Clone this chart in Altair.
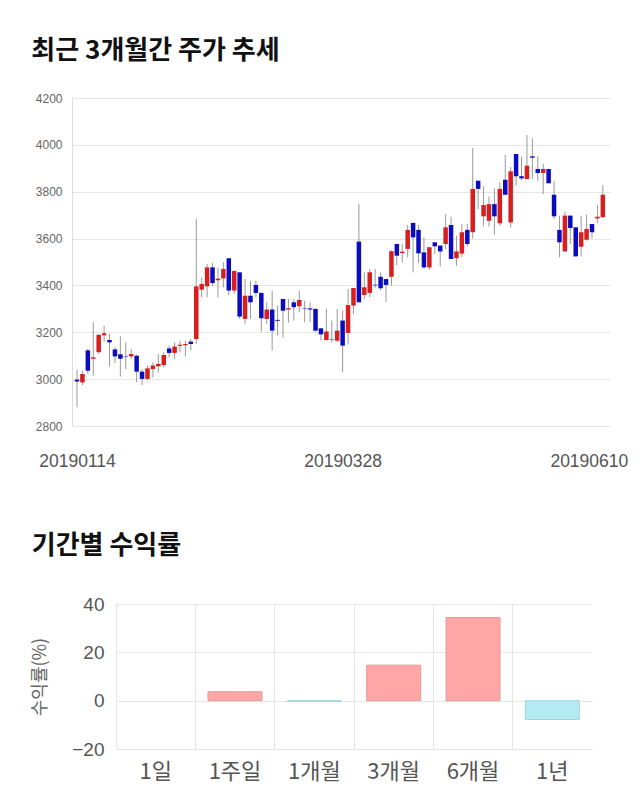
import altair as alt
import pandas as pd
import numpy as np

# ---- candlestick data (index = trading day) ----
opens = [2998, 2986, 3123, 3087, 3115, 3187, 3167, 3127, 3106, 3098,
         3097, 3100, 3032, 3001, 3043, 3055, 3060, 3131, 3112, 3142,
         3145, 3160, 3171, 3382, 3396, 3477, 3422, 3430, 3516, 3378,
         3456, 3257, 3356, 3402, 3368, 3257, 3297, 3253, 3342, 3297,
         3328, 3311, 3303, 3302, 3300, 3217, 3167, 3170, 3164, 3250,
         3197, 3314, 3587, 3359, 3368, 3403, 3437, 3427, 3437, 3577,
         3538, 3556, 3667, 3637, 3541, 3477, 3584, 3570, 3577, 3658,
         3516, 3536, 3637, 3627, 3847, 3695, 3676, 3747, 3665, 3851,
         3669, 3961, 3866, 3854, 3951, 3897, 3880, 3897, 3787, 3637,
         3545, 3698, 3648, 3565, 3595, 3662, 3686, 3691]
highs = [3040, 3036, 3129, 3245, 3193, 3228, 3193, 3136, 3183, 3157,
         3129, 3104, 3043, 3058, 3072, 3107, 3115, 3143, 3157, 3164,
         3164, 3171, 3684, 3435, 3491, 3496, 3477, 3499, 3516, 3462,
         3456, 3428, 3420, 3420, 3370, 3328, 3378, 3314, 3342, 3342,
         3342, 3378, 3335, 3328, 3300, 3217, 3300, 3250, 3299, 3292,
         3385, 3389, 3748, 3456, 3470, 3470, 3456, 3427, 3551, 3577,
         3577, 3658, 3667, 3658, 3606, 3563, 3584, 3570, 3705, 3693,
         3612, 3662, 3662, 3987, 3847, 3823, 3780, 3814, 3840, 3957,
         3905, 3961, 3950, 4042, 4028, 3951, 3919, 3897, 3846, 3698,
         3715, 3698, 3648, 3698, 3701, 3662, 3744, 3828]
lows = [2880, 2975, 3022, 3015, 3108, 3160, 3055, 3069, 3011, 3043,
        3086, 2987, 2975, 2994, 3008, 3029, 3050, 3093, 3086, 3115,
        3097, 3122, 3150, 3349, 3349, 3396, 3349, 3392, 3359, 3363,
        3257, 3236, 3257, 3350, 3203, 3235, 3122, 3186, 3178, 3242,
        3250, 3285, 3242, 3242, 3203, 3165, 3165, 3157, 3157, 3029,
        3150, 3278, 3328, 3342, 3350, 3390, 3378, 3328, 3399, 3487,
        3498, 3520, 3456, 3496, 3470, 3467, 3534, 3481, 3555, 3513,
        3484, 3520, 3567, 3600, 3726, 3652, 3652, 3617, 3655, 3787,
        3648, 3826, 3850, 3854, 3854, 3846, 3790, 3836, 3683, 3520,
        3545, 3577, 3524, 3524, 3591, 3601, 3666, 3691]
closes = [2990, 3022, 3036, 3093, 3189, 3196, 3157, 3097, 3087, 3096,
          3107, 3032, 3001, 3046, 3058, 3065, 3103, 3112, 3139, 3147,
          3150, 3150, 3396, 3406, 3477, 3410, 3429, 3470, 3378, 3462,
          3267, 3356, 3328, 3368, 3260, 3297, 3207, 3249, 3292, 3303,
          3307, 3338, 3301, 3297, 3207, 3191, 3203, 3168, 3207, 3143,
          3316, 3389, 3328, 3392, 3456, 3400, 3388, 3402, 3546, 3527,
          3544, 3637, 3605, 3537, 3477, 3563, 3567, 3545, 3648, 3513,
          3545, 3627, 3577, 3812, 3812, 3743, 3747, 3695, 3812, 3787,
          3887, 3866, 3857, 3911, 3945, 3880, 3897, 3836, 3695, 3584,
          3698, 3645, 3524, 3627, 3641, 3627, 3693, 3787]
date_labels = ["20190114", "20190328", "20190610"]
date_label_idx = [0, 49, 97]
price_ticks = [2800, 3000, 3200, 3400, 3600, 3800, 4000, 4200]

# ---- period returns ----
periods = ["1일", "1주일", "1개월", "3개월", "6개월", "1년"]
returns = [0.0, 3.7, -0.3, 14.7, 34.4, -7.8]
return_ticks = [-20, 0, 20, 40]

df = pd.DataFrame({"i": list(range(len(opens))), "open": opens, "high": highs,
                   "low": lows, "close": closes})
df["dir"] = np.where(df["close"] >= df["open"], "up", "down")

label_expr = " : ".join(
    f"datum.value == {i} ? '{t}'" for i, t in zip(date_label_idx[:-1], date_labels[:-1])
) + f" : '{date_labels[-1]}'"

xq = alt.X("i:Q",
           scale=alt.Scale(domain=[0, 97.4], nice=False, zero=False),
           axis=alt.Axis(values=date_label_idx, labelExpr=label_expr, grid=False,
                         ticks=False, domain=False, labelFontSize=17.5,
                         labelColor="#555", labelFont="Liberation Sans",
                         labelPadding=26,
                         labelOffset={"condition": [
                             {"test": f"datum.value == {date_label_idx[-1]}", "value": -14}],
                             "value": 0}),
           title=None)
yscale = alt.Scale(domain=[2800, 4200], nice=False, zero=False)
yaxis = alt.Axis(values=price_ticks, format="d", grid=True, gridColor="#e6e6e6",
                 ticks=False, domain=True, domainColor="#dddddd", labelFontSize=12,
                 labelColor="#666", labelFont="Liberation Sans", labelPadding=10)

base = alt.Chart(df)
wicks = base.mark_rule(color="#999999", strokeWidth=1).encode(
    x=xq, y=alt.Y("low:Q", scale=yscale, axis=yaxis, title=None), y2="high:Q")
bodies = base.mark_bar(size=4.5).encode(
    x=xq, y=alt.Y("open:Q", scale=yscale, axis=yaxis, title=None), y2="close:Q",
    color=alt.Color("dir:N", scale=alt.Scale(domain=["up", "down"],
                                             range=["#d71f1f", "#0c0cbf"]), legend=None))

top = alt.layer(wicks, bodies).properties(
    width=538, height=328,
    title=alt.TitleParams("최근 3개월간 주가 추세", anchor="start", fontSize=26,
                          fontWeight="bold", font="Noto Sans CJK KR", color="#111111",
                          offset=28, dx=-4))

df2 = pd.DataFrame({"period": periods, "ret": returns})
df2["sign"] = np.where(df2["ret"] > 0, "pos", np.where(df2["ret"] < 0, "neg", "zero"))

# bottom panel shares the column origin with the top panel; its plot starts 44px right
inset = 44
bars = alt.Chart(df2).mark_bar(size=54, strokeWidth=1).encode(
    x=alt.X("period:N", sort=periods,
            scale=alt.Scale(paddingInner=0, paddingOuter=0, range=[inset, inset + 476]),
            axis=alt.Axis(grid=True, bandPosition=0, gridColor="#e6e6e6", ticks=False,
                          domain=False, labelAngle=0, labelFontSize=22,
                          labelColor="#555", labelFont="Noto Sans CJK KR",
                          labelPadding=12),
            title=None),
    y=alt.Y("ret:Q", scale=alt.Scale(domain=[-20, 40], nice=False),
            axis=alt.Axis(values=return_ticks, grid=True, gridColor="#e6e6e6",
                          ticks=False, domain=False, labelFontSize=19,
                          labelColor="#555", labelFont="Liberation Sans",
                          offset=-inset,
                          labelPadding=12, titleFontSize=18, titleColor="#666",
                          titleFont="Noto Sans CJK KR", titleFontWeight="normal",
                          titlePadding=22),
            title="수익률(%)"),
    color=alt.Color("sign:N", scale=alt.Scale(domain=["pos", "neg", "zero"],
                                              range=["#ffa7a7", "#b3ebf2", "transparent"]),
                    legend=None),
    stroke=alt.Stroke("sign:N", scale=alt.Scale(domain=["pos", "neg", "zero"],
                                                range=["#e59a9a", "#9ed6de", "transparent"]),
                      legend=None),
).properties(
    width=inset + 476, height=145,
    title=alt.TitleParams("기간별 수익률", anchor="start", fontSize=26,
                          fontWeight="bold", font="Noto Sans CJK KR", color="#111111",
                          offset=36))

chart = alt.vconcat(top, bars, spacing=63).properties(
    padding={"left": 31, "top": 38, "right": 5, "bottom": 5},
    background="white",
).configure_view(stroke=None).resolve_scale(color="independent", stroke="independent")

chart.save("out.html", embed_options={"renderer": "svg", "actions": False})
